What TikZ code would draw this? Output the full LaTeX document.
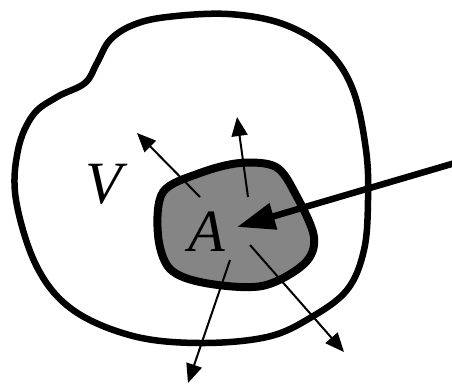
\documentclass[tikz,border=0pt]{standalone}
\usepackage{fontspec}
\setmainfont{Liberation Serif}
\usetikzlibrary{arrows.meta}
\tikzset{
  outer/.style={line width=6.5pt, line join=round},
  blob/.style={line width=8pt, fill=black!48, line join=round},
  thin arrow/.style={line width=2pt, -{Triangle[length=19pt,width=16pt]}},
  thick arrow/.style={line width=6.5pt, -{Triangle[length=38pt,width=26pt]}},
  lbl/.style={font=\fontsize{60}{60}\selectfont\itshape, inner sep=0pt}
}
\begin{document}
\begin{tikzpicture}[x=1pt,y=-1pt]
\useasboundingbox (0,0) rectangle (452,383);
% outer region V
\draw[outer] plot[smooth cycle, tension=0.6] coordinates {
  (110,40) (133,25) (167,17) (228,14) (283,24) (327,50) (353,90) (366,150)
  (368,200) (364,250) (347,290) (310,318) (267,337) (200,343) (133,336)
  (73,310) (37,267) (16,200) (18,150) (33,115) (57,97) (85,83) (97,63)};
% inner region A
\draw[blob] plot[smooth cycle, tension=0.55] coordinates {
  (163,192) (200,173) (240,163) (276,167) (296,195) (314,237) (304,264)
  (262,286) (205,283) (170,269) (158,235)};
% labels
\node[lbl] (V) at (104,184) {V};
\node[lbl] (A) at (207,232) {A};
% arrow anchors
\coordinate (s1) at (200,197);
\coordinate (e1) at (137,133);
\coordinate (s2) at (248,197);
\coordinate (e2) at (237,117);
\coordinate (s3) at (230,260);
\coordinate (e3) at (188,383);
\coordinate (s4) at (250,245);
\coordinate (e4) at (344,352);
\coordinate (f0) at (455,163);
\coordinate (f1) at (237,227);
\draw[thin arrow] (s1) -- (e1);
\draw[thin arrow] (s2) -- (e2);
\draw[thin arrow] (s3) -- (e3);
\draw[thin arrow] (s4) -- (e4);
\draw[thick arrow] (f0) -- (f1);
\end{tikzpicture}
\end{document}
